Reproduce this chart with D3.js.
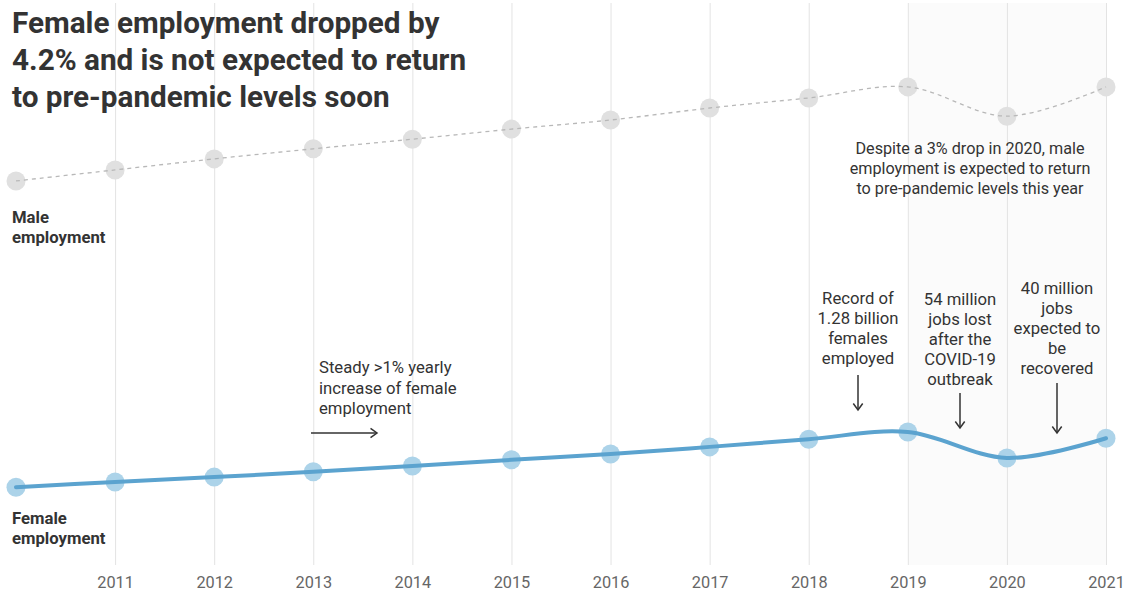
<!DOCTYPE html>
<html>
<head>
<meta charset="utf-8">
<script src="https://cdn.jsdelivr.net/npm/d3@7"></script>
<style>
  html, body { margin: 0; padding: 0; background: #fff; }
  svg { display: block; font-family: Roboto, "Noto Sans", sans-serif; }
</style>
</head>
<body>
<svg id="chart" width="1128" height="594"></svg>
<script>
// ---- data (billions of people employed) ----
const years = [2010, 2011, 2012, 2013, 2014, 2015, 2016, 2017, 2018, 2019, 2020, 2021];
const maleValues = [1.803, 1.826, 1.849, 1.870, 1.890, 1.911, 1.930, 1.955, 1.976, 1.999, 1.938, 1.999];
const femaleValues = [1.165, 1.176, 1.186, 1.197, 1.209, 1.222, 1.234, 1.249, 1.265, 1.280, 1.226, 1.267];
const tickYears = [2011, 2012, 2013, 2014, 2015, 2016, 2017, 2018, 2019, 2020, 2021];
const shadeRange = [2019, 2021];

const titleLines = ["Female employment dropped by", "4.2% and is not expected to return", "to pre-pandemic levels soon"];
const maleLabel = ["Male", "employment"];
const femaleLabel = ["Female", "employment"];
const maleNote = ["Despite a 3% drop in 2020, male", "employment is expected to return", "to pre-pandemic levels this year"];
const steadyNote = ["Steady >1% yearly", "increase of female", "employment"];
const recordNote = ["Record of", "1.28 billion", "females", "employed"];
const lostNote = ["54 million", "jobs lost", "after the", "COVID-19", "outbreak"];
const recoverNote = ["40 million", "jobs", "expected to", "be", "recovered"];

const svg = d3.select("#chart");
const x = d3.scaleLinear().domain([2010, 2021]).range([16, 1106]);
const y = d3.scaleLinear().domain([1.1, 2.1]).range([518.4, 38.4]);

const gridTop = 3, gridBottom = 565;

// shaded forecast region
svg.append("rect")
  .attr("x", x(shadeRange[0])).attr("y", gridTop)
  .attr("width", x(shadeRange[1]) - x(shadeRange[0]))
  .attr("height", gridBottom - gridTop)
  .attr("fill", "#fbfbfb");

// x axis (gridlines + labels)
const xAxis = d3.axisBottom(x)
  .tickValues(tickYears)
  .tickFormat(d3.format("d"))
  .tickSize(-(gridBottom - gridTop))
  .tickPadding(10);
const gx = svg.append("g").attr("transform", `translate(0,${gridBottom})`).call(xAxis);
gx.select(".domain").remove();
gx.selectAll(".tick line").attr("stroke", "#e3e3e3").attr("stroke-width", 1);
gx.selectAll(".tick text")
  .attr("fill", "#666").attr("font-size", 16.3)
  .attr("font-family", "Roboto, sans-serif")
  .attr("y", 23).attr("dy", 0);

// title
svg.append("text")
  .attr("x", 12).attr("y", 33)
  .attr("font-size", 29.7).attr("font-weight", 700).attr("fill", "#333")
  .selectAll("tspan").data(titleLines).join("tspan")
  .attr("x", 12).attr("dy", (d, i) => i === 0 ? 0 : 37)
  .text(d => d);

const maleData = years.map((yr, i) => ({ year: yr, value: maleValues[i] }));
const femaleData = years.map((yr, i) => ({ year: yr, value: femaleValues[i] }));

const line = d3.line().x(d => x(d.year)).y(d => y(d.value)).curve(d3.curveCatmullRom.alpha(0.5));

// male points & line
svg.append("g").selectAll("circle").data(maleData).join("circle")
  .attr("cx", d => x(d.year)).attr("cy", d => y(d.value)).attr("r", 9.5)
  .attr("fill", "#e0e0e0");
svg.append("path").datum(maleData)
  .attr("d", line).attr("fill", "none")
  .attr("stroke", "#b8b8b8").attr("stroke-width", 1.3)
  .attr("stroke-dasharray", "4,4");

// female points & line
svg.append("g").selectAll("circle").data(femaleData).join("circle")
  .attr("cx", d => x(d.year)).attr("cy", d => y(d.value)).attr("r", 9.5)
  .attr("fill", "#acd3e9");
svg.append("path").datum(femaleData)
  .attr("d", line).attr("fill", "none")
  .attr("stroke", "#5ba3cf").attr("stroke-width", 4)
  .attr("stroke-linecap", "round");

// text helpers
function block(lines, px, py, opts) {
  const t = svg.append("text")
    .attr("x", px).attr("y", py)
    .attr("font-size", opts.size || 16.7)
    .attr("font-weight", opts.weight || 400)
    .attr("fill", opts.fill || "#333")
    .attr("text-anchor", opts.anchor || "start");
  t.selectAll("tspan").data(lines).join("tspan")
    .attr("x", px).attr("dy", (d, i) => i === 0 ? 0 : (opts.lh || 20))
    .text(d => d);
}

block(maleLabel, 12, 223, { weight: 700, lh: 20 });
block(femaleLabel, 12, 524, { weight: 700, lh: 20 });
block(maleNote, 970, 154, { anchor: "middle", lh: 20, size: 16.2 });
block(steadyNote, 319, 373, { lh: 20.5 });
block(recordNote, 858, 304, { anchor: "middle", lh: 20 });
block(lostNote, 960, 305, { anchor: "middle", lh: 20 });
block(recoverNote, 1057, 294, { anchor: "middle", lh: 20 });

// arrows
function arrow(x1, y1, x2, y2) {
  const g = svg.append("g").attr("stroke", "#333").attr("stroke-width", 1.5).attr("fill", "none");
  g.append("line").attr("x1", x1).attr("y1", y1).attr("x2", x2).attr("y2", y2);
  const ang = Math.atan2(y2 - y1, x2 - x1);
  const L = 8, a = Math.PI / 5;
  const p1 = [x2 - L * Math.cos(ang - a), y2 - L * Math.sin(ang - a)];
  const p2 = [x2 - L * Math.cos(ang + a), y2 - L * Math.sin(ang + a)];
  g.append("path").attr("d", `M${p1[0]},${p1[1]}L${x2},${y2}L${p2[0]},${p2[1]}`);
}
arrow(311, 433, 377, 433);
arrow(858, 375, 858, 410);
arrow(960, 393, 960, 428);
arrow(1057, 383, 1057, 433);
</script>
</body>
</html>
